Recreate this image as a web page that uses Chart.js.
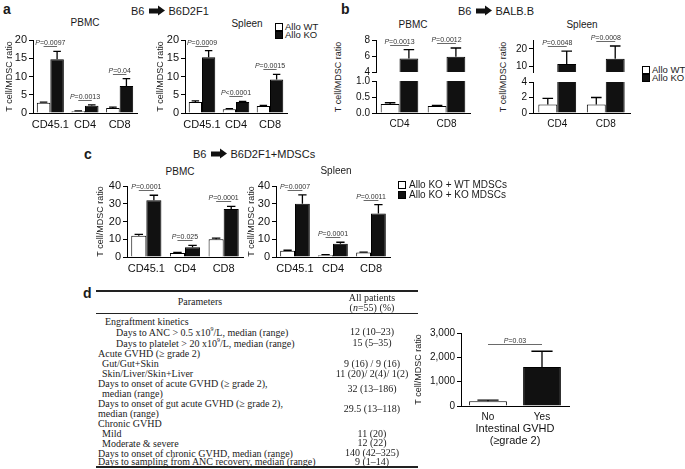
<!DOCTYPE html>
<html>
<head>
<meta charset="utf-8">
<script src="https://cdn.jsdelivr.net/npm/chart.js@4"></script>
<style>
body { margin: 0; background: #fff; }
#fig { position: relative; width: 685px; height: 469px; overflow: hidden; font-family: 'Liberation Sans', Arial, sans-serif; color: #1a1a1a; }
#fig canvas { position: absolute; }
.t { position: absolute; white-space: nowrap; line-height: 1; }
.arr { display: inline-block; position: relative; width: 9px; height: 5px; background: #111; margin: 0 10px 0 5px; vertical-align: middle; top: -1px; }
.arr:after { content: ''; position: absolute; left: 9px; top: -3px; border-left: 7px solid #111; border-top: 5.5px solid transparent; border-bottom: 5.5px solid transparent; }
.sw { position: absolute; width: 8px; height: 8px; border: 1px solid #000; box-sizing: border-box; }
.tb { font-family: 'Liberation Serif', 'Times New Roman', serif; font-size: 10px; color: #222; }
.rule { position: absolute; background: #222; }
</style>
</head>
<body>
<div id="fig"></div>
<script>
// panel a: B6 -> B6D2F1
const catsA = ['CD45.1', 'CD4', 'CD8'];
const aPbmcWT = [2.8, 0.5, 1.4];
const aPbmcWTErr = [0.2, 0.1, 0.2];
const aPbmcKO = [14.7, 2.0, 7.4];
const aPbmcKOErr = [2.2, 0.2, 2.0];
const aPbmcP = ['=0.0097', '=0.0013', '=0.04'];
const aSplWT = [3.0, 1.0, 1.9];
const aSplWTErr = [0.3, 0.2, 0.2];
const aSplKO = [15.3, 3.0, 9.2];
const aSplKOErr = [1.8, 0.2, 1.4];
const aSplP = ['=0.0009', '<0.0001', '=0.0015'];
const ticksA = [0, 5, 10, 15, 20];

// panel b: B6 -> BALB.B (broken axes)
const catsB = ['CD4', 'CD8'];
const bPbmcWT = [0.28, 0.22];
const bPbmcWTErr = [0.04, 0.02];
const bPbmcKO = [5.7, 5.9];
const bPbmcKOErr = [1.1, 1.1];
const bPbmcP = ['=0.0013', '=0.0012'];
const bSplWT = [1.1, 1.1];
const bSplWTErr = [0.8, 0.9];
const bSplKO = [11.3, 14.3];
const bSplKOErr = [7.4, 7.3];
const bSplP = ['=0.0048', '=0.0008'];
const bPbmcTicksHi = [4, 6, 8];
const bPbmcTicksLo = [0, 0.5, 1];
const bSplTicksHi = [10, 15, 20, 25];
const bSplTicksLo = [0, 2, 4];

// panel c: B6 -> B6D2F1 + MDSCs
const catsC = ['CD45.1', 'CD4', 'CD8'];
const cPbmcWT = [12, 2.3, 10];
const cPbmcWTErr = [0.8, 0.3, 0.6];
const cPbmcKO = [32, 5.5, 27];
const cPbmcKOErr = [2.8, 1.0, 1.5];
const cPbmcP = ['=0.0001', '=0.025', '=0.0001'];
const cSplWT = [3.5, 1.0, 2.5];
const cSplWTErr = [0.3, 0.3, 0.3];
const cSplKO = [30, 7.5, 24.5];
const cSplKOErr = [5, 0.8, 5];
const cSplP = ['=0.0007', '=0.0001', '=0.0011'];
const ticksC = [0, 10, 20, 30, 40];

// panel d: patients
const catsD = ['No', 'Yes'];
const dRatio = [200, 1600];
const dErr = [40, 650];
const dP = ['=0.03'];
const ticksD = [0, 1000, 2000, 3000];

const FONT = "'Liberation Sans', Arial, sans-serif";
Chart.defaults.font.family = FONT;
Chart.defaults.color = '#111';
const fig = document.getElementById('fig');

function label(html, x, y, css, align, rot) {
  const d = document.createElement('div');
  d.className = 't';
  d.innerHTML = html;
  d.style.cssText += css || '';
  d.style.left = x + 'px';
  d.style.top = y + 'px';
  const tx = align === 'l' ? '0' : align === 'r' ? '-100%' : '-50%';
  d.style.transform = 'translate(' + tx + ',-50%)' + (rot ? ' rotate(' + rot + 'deg)' : '');
  fig.appendChild(d);
  return d;
}
function swatch(x, y, fill) {
  const s = document.createElement('div');
  s.className = 'sw';
  s.style.left = x + 'px';
  s.style.top = y + 'px';
  s.style.background = fill;
  fig.appendChild(s);
}
function rule(x, y, w, h) {
  const r = document.createElement('div');
  r.className = 'rule';
  r.style.cssText += 'left:' + x + 'px;top:' + y + 'px;width:' + w + 'px;height:' + h + 'px';
  fig.appendChild(r);
}

// error bars (upper only)
const errorBars = {
  id: 'errorBars',
  afterDatasetsDraw(chart) {
    const { ctx, chartArea: a } = chart;
    const y = chart.scales.y;
    ctx.save();
    ctx.beginPath();
    ctx.rect(a.left, a.top - 1, a.right - a.left, a.bottom - a.top + 1);
    ctx.clip();
    chart.data.datasets.forEach((ds, di) => {
      chart.getDatasetMeta(di).data.forEach((bar, i) => {
        const v = ds.data[i];
        const e = ds.err ? ds.err[i] : 0;
        if (v == null || !e || v > y.max) return;
        const yt = y.getPixelForValue(v + e);
        const yb = y.getPixelForValue(v);
        const hw = bar.width * 0.28;
        ctx.strokeStyle = '#000';
        ctx.lineWidth = 1.3;
        ctx.beginPath();
        ctx.moveTo(bar.x, yb);
        ctx.lineTo(bar.x, yt);
        ctx.moveTo(bar.x - hw, yt);
        ctx.lineTo(bar.x + hw, yt);
        ctx.stroke();
      });
    });
    ctx.restore();
  }
};

// P-value brackets
const pLabels = {
  id: 'pLabels',
  afterDatasetsDraw(chart, args, opts) {
    const list = opts.labels;
    if (!list) return;
    const { ctx } = chart;
    const ys = chart.scales.y;
    const sets = chart.data.datasets;
    const metas = sets.map((s, i) => chart.getDatasetMeta(i));
    const topOf = (i) => {
      let t = -Infinity;
      sets.forEach(s => {
        const v = s.data[i];
        if (v != null) t = Math.max(t, v + (s.err ? s.err[i] : 0));
      });
      return ys.getPixelForValue(Math.min(t, ys.max));
    };
    let groups;
    if (opts.span) {
      const n = sets[0].data.length;
      const tops = sets[0].data.map((v, i) => topOf(i));
      groups = [{ text: list[0], xa: metas[0].data[0].x, xb: metas[0].data[n - 1].x, top: Math.min(...tops) }];
    } else {
      groups = list.map((text, i) => ({ text, xa: metas[0].data[i].x, xb: metas[metas.length - 1].data[i].x, top: topOf(i) }));
    }
    const fs = opts.size || 7;
    ctx.save();
    groups.forEach(g => {
      if (!g.text) return;
      const ly = Math.round(g.top - (opts.gap || 5)) + 0.5;
      ctx.strokeStyle = '#444';
      ctx.lineWidth = 0.8;
      ctx.beginPath();
      ctx.moveTo(g.xa, ly);
      ctx.lineTo(g.xb, ly);
      ctx.stroke();
      ctx.fillStyle = '#333';
      ctx.textBaseline = 'alphabetic';
      ctx.textAlign = 'left';
      ctx.font = 'italic ' + fs + 'px ' + FONT;
      const wP = ctx.measureText('P').width;
      ctx.font = fs + 'px ' + FONT;
      const wR = ctx.measureText(g.text).width;
      const sx = (g.xa + g.xb) / 2 - (wP + wR) / 2;
      ctx.font = 'italic ' + fs + 'px ' + FONT;
      ctx.fillText('P', sx, ly - 2);
      ctx.font = fs + 'px ' + FONT;
      ctx.fillText(g.text, sx + wP, ly - 2);
    });
    ctx.restore();
  }
};

function makeBar(o) {
  const cv = document.createElement('canvas');
  const padTop = o.padTop != null ? o.padTop : 22;
  const padBottom = o.xh ? 0 : 6;
  const W = Math.round(o.x1 - o.left + 8);
  const H = Math.round(o.yBot - o.yTop + padTop + (o.xh || 0) + padBottom);
  cv.width = W;
  cv.height = H;
  cv.style.left = o.left + 'px';
  cv.style.top = (o.yTop - padTop) + 'px';
  fig.appendChild(cv);
  const tickFont = { size: o.fs || 11, family: FONT };
  return new Chart(cv, {
    type: 'bar',
    data: {
      labels: o.labels,
      datasets: o.sets.map(s => ({
        data: s.data,
        err: s.err,
        backgroundColor: s.color,
        borderColor: '#000',
        borderWidth: 1,
        categoryPercentage: o.cat || 0.78,
        barPercentage: o.bar || 1
      }))
    },
    options: {
      responsive: false,
      animation: false,
      events: [],
      layout: { padding: { top: padTop, right: 8, bottom: padBottom, left: 0 } },
      plugins: {
        legend: { display: false },
        tooltip: { enabled: false },
        pLabels: { labels: o.p || null, span: !!o.span, gap: o.gap || 5 }
      },
      scales: {
        x: {
          display: !!o.xh,
          grid: { display: false, drawTicks: false },
          border: { display: true, color: '#000', width: 1 },
          ticks: { color: '#111', font: tickFont, padding: 5, autoSkip: false, maxRotation: 0 },
          title: o.xTitle
            ? { display: true, text: o.xTitle, color: '#111', padding: 0, font: { size: 11, family: FONT, lineHeight: 1.1 } }
            : { display: false },
          afterFit: s => { s.height = o.xh || 0; }
        },
        y: {
          min: o.min,
          max: o.max,
          afterBuildTicks: s => { s.ticks = o.ticks.map(v => ({ value: v })); },
          ticks: { color: '#111', font: tickFont, padding: 2, callback: o.fmt || (v => v) },
          grid: { display: true, drawOnChartArea: false, drawTicks: true, tickLength: 4, color: '#000' },
          border: { display: true, color: '#000', width: 1 },
          title: { display: !!o.yTitle, text: 'T cell/MDSC ratio', padding: 0, color: '#222', font: { size: 9, family: FONT } },
          afterFit: s => { s.width = o.x0 - o.left; }
        }
      }
    },
    plugins: [errorBars, pLabels]
  });
}

const WHITE = '#ffffff', BLACK = '#111111';
const pair = (wt, wtErr, ko, koErr) => [
  { data: wt, err: wtErr, color: WHITE },
  { data: ko, err: koErr, color: BLACK }
];

// ---------- panel a ----------
label('a', 3, 9, 'font-size:14px;font-weight:bold', 'l');
label('B6<span class="arr"></span>B6D2F1', 131, 11, 'font-size:11px', 'l');
label('PBMC', 85, 23, 'font-size:10px');
label('Spleen', 247, 24, 'font-size:10px');
swatch(275, 23, WHITE); label('Allo WT', 285, 27, 'font-size:9.5px', 'l');
swatch(275, 31, BLACK); label('Allo KO', 285, 35, 'font-size:9.5px', 'l');
makeBar({ left: 4, x0: 33, x1: 137, yTop: 40, yBot: 113, min: 0, max: 20, ticks: ticksA, labels: catsA,
  sets: pair(aPbmcWT, aPbmcWTErr, aPbmcKO, aPbmcKOErr), p: aPbmcP, yTitle: true, xh: 18 });
makeBar({ left: 155, x0: 185, x1: 287, yTop: 40, yBot: 113, min: 0, max: 20, ticks: ticksA, labels: catsA,
  sets: pair(aSplWT, aSplWTErr, aSplKO, aSplKOErr), p: aSplP, yTitle: true, xh: 18 });

// ---------- panel b ----------
label('b', 341, 9, 'font-size:14px;font-weight:bold', 'l');
label('B6<span class="arr"></span>BALB.B', 458, 11, 'font-size:11px', 'l');
label('PBMC', 413, 25, 'font-size:10px');
label('Spleen', 582, 25, 'font-size:10px');
label('T cell/MDSC ratio', 338, 77, 'font-size:9px;color:#222', 'c', -90);
label('T cell/MDSC ratio', 503, 77, 'font-size:9px;color:#222', 'c', -90);
swatch(642, 66, WHITE); label('Allo WT', 652, 70, 'font-size:9.5px', 'l');
swatch(642, 74, BLACK); label('Allo KO', 652, 78, 'font-size:9.5px', 'l');
const above = (arr, m) => arr.map(v => (v >= m ? v : null));
makeBar({ left: 346, x0: 376, x1: 470, yTop: 40, yBot: 74, min: 4, max: 8, ticks: bPbmcTicksHi, labels: catsB,
  sets: pair(above(bPbmcWT, 4), bPbmcWTErr, bPbmcKO, bPbmcKOErr), p: bPbmcP, cat: 0.8, fs: 10 });
makeBar({ left: 346, x0: 376, x1: 470, yTop: 79, yBot: 113, min: 0, max: 1, ticks: bPbmcTicksLo, labels: catsB,
  sets: pair(bPbmcWT, bPbmcWTErr, bPbmcKO, bPbmcKOErr), xh: 18, padTop: 6, cat: 0.8, fs: 10, fmt: v => v.toFixed(1) });
makeBar({ left: 503, x0: 533, x1: 630, yTop: 40, yBot: 74, min: 6.8, max: 25, ticks: bSplTicksHi, labels: catsB,
  sets: pair(above(bSplWT, 6.8), bSplWTErr, bSplKO, bSplKOErr), p: bSplP, cat: 0.78, fs: 10 });
makeBar({ left: 503, x0: 533, x1: 630, yTop: 80, yBot: 113, min: 0, max: 4, ticks: bSplTicksLo, labels: catsB,
  sets: pair(bSplWT, bSplWTErr, bSplKO, bSplKOErr), xh: 18, padTop: 6, cat: 0.78, fs: 10 });

// ---------- panel c ----------
label('c', 84, 154, 'font-size:14px;font-weight:bold', 'l');
label('B6<span class="arr"></span>B6D2F1+MDSCs', 193, 154, 'font-size:11px', 'l');
label('PBMC', 180, 172, 'font-size:10px');
label('Spleen', 336, 171, 'font-size:10px');
swatch(398, 181, WHITE); label('Allo KO + WT MDSCs', 409, 185, 'font-size:10px', 'l');
swatch(398, 191, BLACK); label('Allo KO + KO MDSCs', 409, 195, 'font-size:10px', 'l');
makeBar({ left: 95, x0: 127, x1: 243, yTop: 186, yBot: 257, min: 0, max: 40, ticks: ticksC, labels: catsC,
  sets: pair(cPbmcWT, cPbmcWTErr, cPbmcKO, cPbmcKOErr), p: cPbmcP, yTitle: true, xh: 18 });
makeBar({ left: 246, x0: 276, x1: 390, yTop: 186, yBot: 257, min: 0, max: 40, ticks: ticksC, labels: catsC,
  sets: pair(cSplWT, cSplWTErr, cSplKO, cSplKOErr), p: cSplP, yTitle: true, xh: 18 });

// ---------- panel d ----------
label('d', 83, 293, 'font-size:14px;font-weight:bold', 'l');
rule(96, 290, 322, 1.5);
rule(96, 313, 322, 1.2);
rule(96, 466, 322, 1.5);
label('Parameters', 200, 302, '', 'c').className = 't tb';
label('All patients', 372, 298, '', 'c').className = 't tb';
label('(<i>n</i>=55) (%)', 372, 308, '', 'c').className = 't tb';
const tableRows = [
  ['Engraftment kinetics', 105, 322],
  ['Days to ANC &gt; 0.5 x10<sup style="font-size:6px">9</sup>/L, median (range)', 116, 332],
  ['Days to platelet &gt; 20 x10<sup style="font-size:6px">9</sup>/L, median (range)', 116, 343],
  ['Acute GVHD (&ge; grade 2)', 98, 354],
  ['Gut/Gut+Skin', 102, 364],
  ['Skin/Liver/Skin+Liver', 102, 374],
  ['Days to onset of acute GVHD (&ge; grade 2),', 98, 384],
  ['median (range)', 102, 394],
  ['Days to onset of gut acute GVHD (&ge; grade 2),', 98, 404],
  ['median (range)', 98, 414],
  ['Chronic GVHD', 98, 424],
  ['Mild', 102, 434],
  ['Moderate &amp; severe', 102, 444],
  ['Days to onset of chronic GVHD, median (range)', 98, 454],
  ['Days to sampling from ANC recovery, median (range)', 98, 462]
];
const tableValues = [
  ['12 (10&ndash;23)', 332], ['15 (5&ndash;35)', 343], ['9 (16) / 9 (16)', 364],
  ['11 (20)/ 2(4)/ 1(2)', 374], ['32 (13&ndash;186)', 389], ['29.5 (13&ndash;118)', 409],
  ['11 (20)', 434], ['12 (22)', 443], ['140 (42&ndash;325)', 453], ['9 (1&ndash;14)', 462]
];
tableRows.forEach(r => { label(r[0], r[1], r[2], '', 'l').className = 't tb'; });
tableValues.forEach(r => { label(r[0], 372, r[1], '', 'c').className = 't tb'; });

makeBar({ left: 413, x0: 461, x1: 569, yTop: 333, yBot: 406, min: 0, max: 3000, ticks: ticksD, labels: catsD,
  sets: [{ data: dRatio, err: dErr, color: [WHITE, BLACK] }], p: dP, span: true, gap: 7,
  yTitle: true, xh: 41, padTop: 16, cat: 1, bar: 0.7, fs: 10,
  xTitle: ['Intestinal GVHD', '(\u2265grade 2)'], fmt: v => v.toLocaleString('en-US') });
</script>
</body>
</html>
